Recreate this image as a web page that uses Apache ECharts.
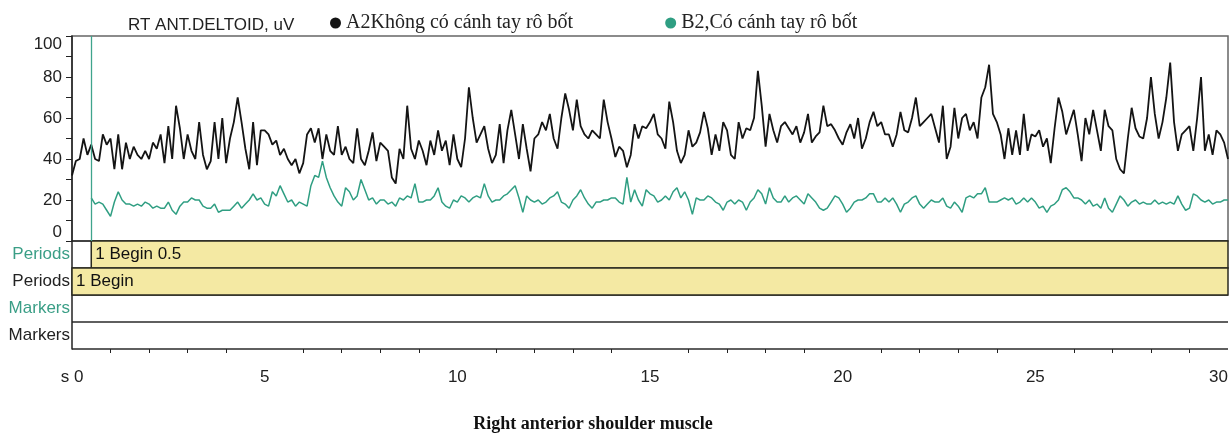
<!DOCTYPE html>
<html>
<head>
<meta charset="utf-8">
<script src="https://cdn.jsdelivr.net/npm/echarts@6/dist/echarts.min.js"></script>
<style>
html,body{margin:0;padding:0;background:#fff}
#emgChart{width:1232px;height:433px}
</style>
</head>
<body>
<div id="emgChart"></div>
<script>
// 采样间隔 0.1 s
var sampleStep = 0.1;
var blackStart = 0;
var greenStart = 0.5;

var blackName = 'A2Không có cánh tay rô bốt';
var greenName = 'B2,Có cánh tay rô bốt';

// A2 black trace, 0 .. 30 s
var blackValues = [
    32,39,40,50,42,47,40,39,52,47,
    50,35,52,35,48,40,46,42,40,44,
    40,48,45,52,38,56,40,66,55,40,
    52,44,40,58,42,35,39,58,40,60,
    38,50,58,70,58,45,35,58,37,54,
    54,52,47,49,42,45,40,37,40,33,
    38,52,55,48,55,40,52,44,42,56,
    42,46,40,38,55,40,37,44,53,39,
    48,46,44,31,28,45,40,66,45,40,
    49,44,37,49,42,54,44,49,37,52,
    40,36,50,75,60,48,52,56,45,38,
    42,57,38,54,64,52,40,57,45,34,
    50,52,58,54,62,50,45,60,72,64,
    54,69,56,52,50,54,52,50,69,58,
    50,41,46,44,36,42,57,50,56,55,
    58,62,52,50,45,68,58,44,38,42,
    54,46,48,53,63,55,42,52,44,58,
    54,42,40,58,50,55,54,60,83,66,
    46,62,54,48,56,58,55,52,56,48,
    53,62,48,51,53,66,56,57,54,50,
    47,53,57,50,60,45,50,58,63,56,
    58,52,52,46,52,63,54,53,60,70,
    56,58,60,62,55,48,66,40,46,65,
    50,60,62,54,58,50,70,75,86,62,
    58,52,40,55,42,54,42,62,44,52,
    51,54,46,50,38,55,70,63,52,58,
    64,52,39,60,52,64,54,44,64,56,
    54,40,35,33,50,65,55,51,50,60,
    80,62,50,58,70,87,58,44,52,54,
    56,44,60,80,44,52,42,54,52,48,
    40
];

// B2 green trace, 0.5 .. 30 s
var greenValues = [
    21,18,19,18,15,
    12,19,24,20,18,18,17,18,17,19,
    18,16,17,16,16,19,15,13,17,19,
    19,21,20,20,17,16,16,18,14,15,
    15,15,17,19,16,18,20,23,20,21,
    18,17,24,22,27,23,19,20,17,19,
    18,17,27,32,31,39,31,26,22,19,
    17,26,24,20,22,30,25,20,21,18,
    20,20,18,19,17,21,20,22,21,28,
    19,19,20,20,22,26,19,17,16,20,
    19,22,21,19,21,22,21,28,22,19,
    20,20,22,23,25,27,21,14,22,20,
    19,20,18,19,21,22,24,19,18,16,
    20,22,25,21,18,16,19,19,20,20,
    21,21,19,18,31,19,25,20,17,25,
    23,22,19,20,22,20,24,26,21,24,
    20,13,21,20,20,22,21,19,18,15,
    19,20,18,20,19,15,19,21,25,23,
    18,26,21,19,19,22,19,21,22,20,
    18,23,21,19,16,15,16,19,22,21,
    18,14,16,19,20,20,21,23,23,19,
    19,21,19,21,18,14,18,19,21,22,
    18,16,18,20,19,19,21,17,16,19,
    17,14,21,22,21,23,23,26,19,19,
    19,20,21,20,21,18,19,21,19,21,
    19,16,17,14,17,18,20,25,26,24,
    21,21,20,18,20,17,18,16,21,16,
    14,18,22,20,17,19,20,18,19,18,
    18,20,18,19,18,19,18,22,18,15,
    16,23,22,20,19,20,18,19,19,20,
    20
];

// 下方的 Periods / Markers 行
var rowLabels = ['Periods', 'Periods', 'Markers', 'Markers'];
var rowColors = ['#3a9e86', '#222', '#3a9e86', '#222'];
var periodStarts = [0.5, 0];
var periodEnds = [30, 30];
var periodRows = [0, 1];
var periodTexts = ['1 Begin 0.5', '1 Begin'];

var yTicks = {min: 0, max: 100, interval: 20};
var xTicks = {min: 0, max: 30, interval: 5};

var sansFont = '"Liberation Sans", Arial, sans-serif';
var serifFont = '"Liberation Serif", "Times New Roman", serif';
var blackColor = '#141414';
var greenColor = '#2f9e82';

function toPairs(start, values){
    var out = [];
    for (var i = 0; i < values.length; i++){
        out.push([Math.round((start + i * sampleStep) * 10) / 10, values[i]]);
    }
    return out;
}

function renderPeriod(params, api){
    var start = api.value(0);
    var end = api.value(1);
    var row = api.value(2);
    var p = api.coord([start, row]);
    var size = api.size([end - start, 1]);
    return {
        type: 'group',
        children: [
            {
                type: 'rect',
                shape: {x: p[0], y: p[1] - size[1] / 2, width: size[0], height: size[1]},
                style: {fill: '#f4e9a3', stroke: '#2b2b20', lineWidth: 1.5}
            },
            {
                type: 'text',
                style: {
                    text: periodTexts[params.dataIndex],
                    x: p[0] + 4,
                    y: p[1],
                    verticalAlign: 'middle',
                    font: '17px ' + sansFont,
                    fill: '#111'
                }
            }
        ]
    };
}

var periodData = [];
for (var k = 0; k < periodStarts.length; k++){
    periodData.push([periodStarts[k], periodEnds[k], periodRows[k]]);
}

var chart = echarts.init(document.getElementById('emgChart'));

var option = {
    animation: false,
    backgroundColor: '#fff',
    title: [
        {
            text: 'RT ANT.DELTOID, uV',
            left: 123, top: 12,
            textStyle: {fontFamily: sansFont, fontSize: 17, fontWeight: 'normal', color: '#222'}
        },
        {
            text: 'Right anterior shoulder muscle',
            left: 588, top: 410, textAlign: 'center',
            textStyle: {fontFamily: serifFont, fontSize: 18, fontWeight: 'bold', color: '#111'}
        }
    ],
    legend: {
        left: 325, top: 8,
        icon: 'circle',
        itemWidth: 11, itemHeight: 11, itemGap: 92,
        textStyle: {fontFamily: serifFont, fontSize: 20, color: '#222'},
        data: [blackName, greenName]
    },
    grid: [
        {left: 72, top: 36, right: 4, height: 205, show: true, borderColor: '#666', borderWidth: 1.5,
         containLabel: false, outerBoundsMode: 'none'},
        {left: 72, top: 241, right: 4, height: 108, containLabel: false, outerBoundsMode: 'none'}
    ],
    xAxis: [
        {gridIndex: 0, type: 'value', min: xTicks.min, max: xTicks.max, show: false},
        {
            gridIndex: 1, type: 'value',
            min: xTicks.min, max: xTicks.max, interval: xTicks.interval,
            axisLine: {lineStyle: {color: '#222', width: 1.5}},
            axisTick: {length: 8, lineStyle: {color: '#222'}},
            minorTick: {show: true, splitNumber: 5, length: 4, lineStyle: {color: '#222'}},
            splitLine: {show: false},
            axisLabel: {
                margin: 20,
                fontFamily: sansFont, fontSize: 17, color: '#222',
                alignMaxLabel: 'right',
                formatter: function(v){ return v === 0 ? 's 0' : String(v); }
            }
        }
    ],
    yAxis: [
        {
            gridIndex: 0, type: 'value',
            min: yTicks.min, max: yTicks.max, interval: yTicks.interval,
            axisLine: {show: true, lineStyle: {color: '#222', width: 1.5}},
            axisTick: {show: true, length: 6, lineStyle: {color: '#222'}},
            minorTick: {show: true, splitNumber: 2, length: 6, lineStyle: {color: '#222'}},
            splitLine: {show: false},
            axisLabel: {
                margin: 10,
                fontFamily: sansFont, fontSize: 17, color: '#222',
                verticalAlignMinLabel: 'bottom',
                verticalAlignMaxLabel: 'top'
            }
        },
        {
            gridIndex: 1, type: 'category', inverse: true,
            data: rowLabels.map(function(l, i){
                return {value: l, textStyle: {color: rowColors[i]}};
            }),
            axisLine: {show: true, lineStyle: {color: '#222', width: 1.5}},
            axisTick: {show: false},
            splitLine: {show: true, lineStyle: {color: '#2a2a2a', width: 1.5}},
            axisLabel: {margin: 2, fontFamily: sansFont, fontSize: 17}
        }
    ],
    series: [
        {
            name: blackName,
            type: 'line',
            xAxisIndex: 0, yAxisIndex: 0,
            showSymbol: false,
            data: toPairs(blackStart, blackValues),
            itemStyle: {color: blackColor},
            lineStyle: {color: blackColor, width: 1.8}
        },
        {
            name: greenName,
            type: 'line',
            xAxisIndex: 0, yAxisIndex: 0,
            showSymbol: false,
            data: toPairs(greenStart, greenValues),
            itemStyle: {color: greenColor},
            lineStyle: {color: greenColor, width: 1.5},
            markLine: {
                silent: true,
                symbol: 'none',
                label: {show: false},
                lineStyle: {color: '#3fa48c', width: 1.3, type: 'solid', opacity: 1},
                data: [{xAxis: greenStart}]
            }
        },
        {
            type: 'custom',
            xAxisIndex: 1, yAxisIndex: 1,
            renderItem: renderPeriod,
            encode: {x: [0, 1], y: 2},
            data: periodData,
            z: 3
        }
    ]
};

chart.setOption(option);
</script>
</body>
</html>
